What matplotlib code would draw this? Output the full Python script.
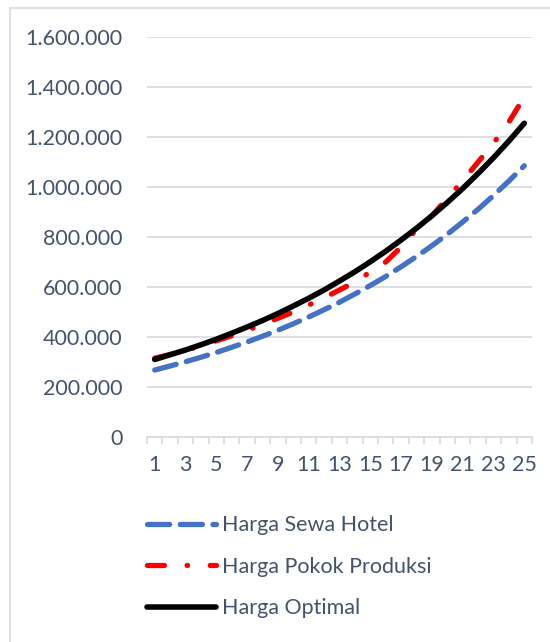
import numpy as np
import matplotlib.pyplot as plt
from matplotlib.lines import Line2D
from matplotlib.ticker import FuncFormatter, MultipleLocator

# data
periode = list(range(1, 26))
harga_sewa_hotel = [268000, 284000, 301000, 319000, 338000, 359000, 380000, 403000,
                    427000, 453000, 480000, 509000, 539000, 572000, 606000, 642000,
                    681000, 722000, 765000, 811000, 860000, 911000, 966000, 1024000,
                    1085000]
harga_pokok_produksi = [315000, 330000, 347000, 365000, 385000, 405000, 427000, 450000,
                        475000, 500000, 528000, 557000, 588000, 620000, 660000, 700000,
                        760000, 830000, 885000, 955000, 1025000, 1100000, 1175000,
                        1260000, 1360000]
harga_optimal = [310000, 329000, 348000, 369000, 391000, 415000, 440000, 466000,
                 494000, 524000, 555000, 588000, 624000, 661000, 701000, 743000,
                 788000, 835000, 885000, 938000, 994000, 1054000, 1117000, 1184000,
                 1255000]

txt = '#44546A'
grid = '#D9DDE3'
fs = 15.5
plt.rcParams['font.family'] = ['Lato', 'DejaVu Sans']

fig = plt.figure(figsize=(5.5, 6.42), dpi=100)
ax = fig.add_axes([147 / 550, 1 - 437 / 642, 385 / 550, 400 / 642])

ax.plot(periode, harga_sewa_hotel, color='#4472C4', lw=3.8, dashes=(4.2, 2.0),
        solid_capstyle='round', dash_capstyle='round', label='Harga Sewa Hotel')
ax.plot(periode, harga_pokok_produksi, color='#FF0000', lw=3.8, dashes=(3.2, 4.3, 0.1, 4.3),
        dash_capstyle='round', label='Harga Pokok Produksi')
ax.plot(periode, harga_optimal, color='black', lw=4.0, solid_capstyle='round',
        label='Harga Optimal')

ax.set_xlim(0.5, 25.5)
ax.set_ylim(0, 1600000)
ax.yaxis.set_major_locator(MultipleLocator(200000))
ax.yaxis.set_major_formatter(FuncFormatter(lambda v, p: f'{int(v):,}'.replace(',', '.')))
ax.grid(axis='y', color=grid, lw=1.3)
ax.set_axisbelow(True)

ax.set_xticks(periode[::2])
ax.set_xticks(np.arange(0.5, 26, 1), minor=True)
ax.tick_params(axis='x', which='major', length=0, pad=13, labelsize=fs, labelcolor=txt)
ax.tick_params(axis='x', which='minor', length=5, color=grid, width=1.3, direction='out')
ax.tick_params(axis='y', length=0, pad=17.5, labelsize=fs, labelcolor=txt)

for s in ['top', 'right', 'left']:
    ax.spines[s].set_visible(False)
ax.spines['bottom'].set_color(grid)
ax.spines['bottom'].set_linewidth(1.3)

# legend below the chart
handles, labels = ax.get_legend_handles_labels()
fig.legend(handles, labels, loc='upper left', bbox_to_anchor=(128 / 550, 1 - 496 / 642),
           frameon=False, fontsize=fs, labelcolor=txt, handlelength=3.2,
           handletextpad=0.25, labelspacing=1.0)

# chart area border (left and top)
fig.add_artist(Line2D([10 / 550, 10 / 550], [0, 1 - 8 / 642], color=grid, lw=1.3))
fig.add_artist(Line2D([10 / 550, 1], [1 - 8 / 642, 1 - 8 / 642], color=grid, lw=1.3))

fig.savefig('out.png', dpi=100)
